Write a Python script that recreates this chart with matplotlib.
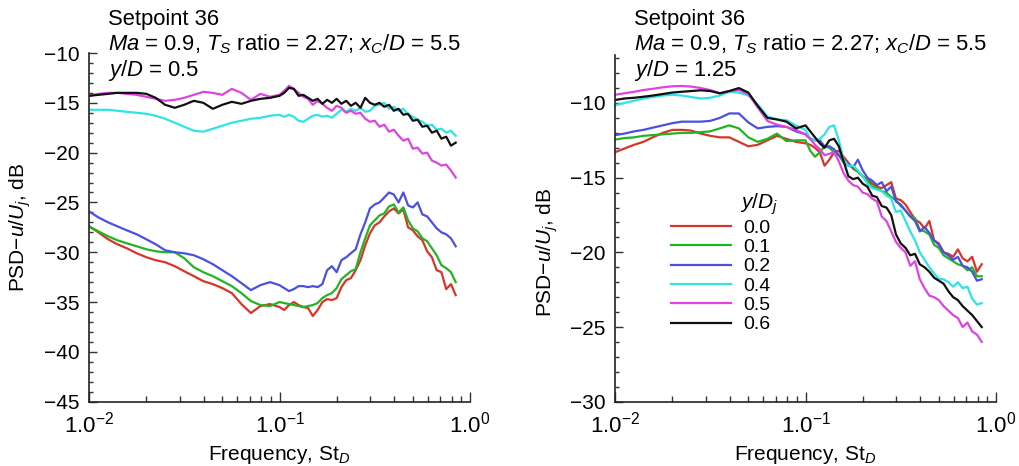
import matplotlib
matplotlib.use("Agg")
import matplotlib.pyplot as plt
from matplotlib.ticker import FuncFormatter, FixedLocator, MultipleLocator
import numpy as np

plt.rcParams['font.family'] = ['Liberation Sans', 'DejaVu Sans']
plt.rcParams['mathtext.fontset'] = 'custom'
plt.rcParams['mathtext.rm'] = 'Liberation Sans'
plt.rcParams['mathtext.it'] = 'Liberation Sans:italic'
plt.rcParams['mathtext.bf'] = 'Liberation Sans:bold'

# frequency (Strouhal number) grid shared by all curves
st = [0.0100, 0.0112, 0.0126, 0.0141, 0.0158, 0.0178, 0.0200, 0.0224, 0.0251, 0.0282,
      0.0316, 0.0355, 0.0398, 0.0447, 0.0501, 0.0562, 0.0631, 0.0708, 0.0794, 0.0891,
      0.1000, 0.1059, 0.1122, 0.1189, 0.1259, 0.1334, 0.1413, 0.1496, 0.1585, 0.1679,
      0.1778, 0.1884, 0.1995, 0.2113, 0.2239, 0.2371, 0.2512, 0.2661, 0.2818, 0.2985,
      0.3162, 0.3350, 0.3548, 0.3758, 0.3981, 0.4217, 0.4467, 0.4732, 0.5012, 0.5309,
      0.5623, 0.5957, 0.6310, 0.6683, 0.7079, 0.7499, 0.7943, 0.8414]

labels = ["0.0", "0.1", "0.2", "0.4", "0.5", "0.6"]
colors = ["#d8352a", "#22b422", "#4a50e0", "#2ee4e4", "#e044e0", "#111111"]

# y/D = 0.5 (left panel), PSD in dB
left_00 = [-27.4, -28.0, -28.7, -29.2, -29.6, -30.1, -30.5, -30.8, -31.0, -31.4,
           -31.9, -32.4, -32.9, -33.2, -33.6, -34.1, -35.2, -36.1, -35.4, -35.2,
           -35.5, -35.8, -35.3, -35.0, -35.3, -35.5, -35.6, -36.4, -35.8, -35.0,
           -34.7, -34.8, -34.6, -33.5, -32.8, -32.6, -31.8, -30.8, -29.3, -28.1,
           -27.3, -27.0, -26.4, -25.9, -25.6, -26.1, -25.7, -27.5, -27.8, -28.4,
           -28.8, -29.9, -30.5, -31.8, -32.0, -33.7, -33.2, -34.3]
left_01 = [-27.4, -27.9, -28.4, -28.8, -29.1, -29.4, -29.7, -29.9, -30.0, -30.0,
           -30.6, -31.5, -32.0, -32.4, -32.9, -33.4, -34.1, -34.9, -35.3, -35.4,
           -35.0, -35.1, -35.2, -35.3, -35.4, -35.5, -35.4, -35.3, -35.1, -34.6,
           -34.3, -34.1, -33.6, -32.7, -32.3, -31.9, -31.7, -30.0, -28.6, -27.3,
           -26.8, -26.3, -26.1, -25.4, -25.2, -26.0, -25.5, -26.8, -27.6, -27.9,
           -28.6, -28.9, -29.6, -30.3, -31.3, -31.6, -32.0, -33.0]
left_02 = [-25.9, -26.5, -27.0, -27.4, -27.8, -28.2, -28.7, -29.2, -29.8, -30.0,
           -30.1, -30.3, -30.7, -31.2, -31.8, -32.4, -33.1, -33.8, -33.3, -33.0,
           -33.3, -33.6, -33.9, -33.7, -33.4, -33.4, -33.5, -33.4, -33.5, -33.2,
           -31.8, -31.4, -32.0, -30.8, -30.5, -30.1, -29.7, -28.2, -27.0, -25.6,
           -25.2, -25.0, -24.5, -24.0, -24.2, -25.0, -24.0, -25.3, -25.5, -25.0,
           -26.2, -26.4, -27.0, -27.6, -28.0, -28.2, -28.6, -29.4]
left_04 = [-15.7, -15.7, -15.7, -15.8, -15.9, -16.0, -16.1, -16.3, -16.6, -17.0,
           -17.4, -17.8, -17.9, -17.6, -17.3, -17.0, -16.8, -16.6, -16.5, -16.3,
           -16.2, -16.4, -16.2, -16.4, -16.8, -16.9, -16.6, -16.3, -16.2, -16.4,
           -16.3, -16.5, -16.1, -15.7, -15.9, -15.6, -15.8, -15.5, -15.9, -15.8,
           -15.3, -15.2, -15.0, -15.6, -15.4, -15.8, -15.6, -16.2, -16.4, -16.7,
           -16.9, -17.3, -17.2, -17.7, -17.6, -18.0, -17.8, -18.3]
left_05 = [-14.3, -14.1, -14.0, -14.0, -14.1, -14.2, -14.4, -14.6, -14.8, -14.7,
           -14.5, -14.2, -13.9, -14.0, -14.2, -13.6, -14.0, -14.7, -14.1, -14.4,
           -14.2, -13.8, -13.3, -13.6, -14.0, -14.4, -14.6, -15.2, -14.8, -15.1,
           -15.5, -15.8, -15.3, -15.5, -16.0, -15.8, -16.1, -16.0, -16.6, -16.9,
           -16.8, -17.4, -17.2, -17.9, -17.7, -18.3, -18.8, -18.6, -19.6, -19.5,
           -20.1, -20.0, -20.8, -21.0, -21.3, -21.2, -21.8, -22.5]
left_06 = [-14.3, -14.2, -14.1, -14.0, -14.0, -14.0, -14.1, -14.5, -15.2, -15.5,
           -15.2, -14.8, -15.0, -15.6, -15.2, -14.9, -15.1, -14.8, -14.6, -14.5,
           -14.3, -14.0, -13.5, -13.6, -14.3, -14.2, -14.5, -14.8, -14.6, -15.1,
           -14.7, -15.0, -14.6, -15.1, -14.8, -15.3, -15.0, -15.5, -14.5, -15.0,
           -15.2, -15.0, -15.4, -15.2, -15.8, -15.6, -16.2, -16.1, -16.8, -16.7,
           -17.4, -17.3, -18.0, -17.8, -18.6, -18.4, -19.3, -19.0]

# y/D = 1.25 (right panel), PSD in dB
right_00 = [-13.3, -13.05, -12.8, -12.6, -12.3, -12.0, -11.8, -11.8, -11.85, -12.05,
            -12.2, -12.3, -12.3, -12.6, -12.9, -12.8, -12.5, -12.2, -12.4, -12.6,
            -12.7, -12.8, -13.0, -13.3, -14.2, -13.8, -13.3, -13.2, -13.6, -14.0,
            -14.4, -14.6, -14.9, -15.1, -15.4, -15.6, -15.7, -15.5, -15.3, -16.4,
            -16.5, -16.8, -17.3, -17.8, -18.0, -18.4, -17.9, -19.2, -19.4, -20.0,
            -20.1, -20.3, -19.8, -20.4, -20.6, -20.3, -21.3, -20.8]
right_01 = [-12.45, -12.35, -12.3, -12.2, -12.15, -12.1, -12.05, -12.0, -12.0, -11.95,
            -11.9, -11.7, -11.5, -11.7, -12.3, -12.6, -12.4, -12.05, -12.55, -12.5,
            -12.5, -13.2, -13.6, -13.3, -12.9, -13.0, -13.3, -13.5, -14.0, -14.2,
            -14.3, -14.6, -14.9, -15.2, -15.6, -15.7, -15.9, -16.0, -16.3, -16.5,
            -16.9, -17.2, -17.6, -17.7, -18.5, -18.6, -18.8, -19.5, -19.7, -20.2,
            -20.4, -20.6, -20.8, -20.9, -21.2, -21.0, -21.6, -21.6]
right_02 = [-12.15, -12.05, -11.9, -11.8, -11.65, -11.5, -11.35, -11.25, -11.25, -11.25,
            -11.2, -11.0, -10.7, -10.7, -11.3, -11.7, -11.6, -11.55, -11.6, -11.9,
            -12.1, -12.4, -12.5, -12.5, -12.9, -12.9, -13.1, -13.5, -13.8, -14.1,
            -14.3, -13.8, -14.5, -15.0, -15.2, -15.5, -15.3, -15.9, -15.6, -16.6,
            -16.8, -17.2, -17.6, -17.9, -18.6, -18.3, -18.7, -19.2, -19.5, -20.0,
            -20.2, -20.5, -20.3, -20.9, -21.0, -21.3, -21.9, -21.8]
right_04 = [-10.15, -10.0, -9.85, -9.7, -9.6, -9.5, -9.45, -9.5, -9.6, -9.7,
            -9.65, -9.5, -9.25, -9.3, -9.5, -10.1, -10.9, -11.1, -11.15, -11.5,
            -11.8, -12.4, -12.5, -12.4, -12.1, -11.6, -11.5, -12.5, -13.8, -14.2,
            -14.2, -14.5, -14.9, -15.4, -15.7, -15.8, -15.9, -16.2, -16.4, -17.3,
            -17.2, -17.9, -18.6, -19.2, -20.0, -20.5, -21.0, -21.4, -21.8, -21.8,
            -22.0, -22.3, -22.0, -22.4, -22.3, -23.1, -23.5, -23.4]
right_05 = [-9.45, -9.35, -9.25, -9.13, -9.05, -8.95, -8.88, -8.86, -8.9, -9.0,
            -9.13, -9.35, -9.2, -9.13, -9.4, -10.3, -11.2, -11.45, -11.6, -11.8,
            -12.1, -12.4, -12.8, -13.1, -13.5, -13.4, -13.3, -13.9, -14.7, -15.2,
            -15.5, -15.6, -16.0, -16.1, -16.4, -16.6, -17.6, -17.9, -18.6, -19.3,
            -19.7, -20.0, -20.9, -20.6, -21.8, -22.4, -22.9, -23.0, -23.2, -23.6,
            -23.9, -24.2, -24.4, -25.0, -24.7, -25.3, -25.5, -26.0]
right_06 = [-9.8, -9.7, -9.65, -9.58, -9.5, -9.4, -9.3, -9.25, -9.2, -9.15,
            -9.2, -9.35, -9.2, -9.0, -9.3, -10.2, -11.0, -11.1, -11.25, -11.7,
            -11.5, -11.9, -12.3, -12.7, -13.0, -12.5, -12.4, -12.9, -13.9, -14.9,
            -15.1, -15.0, -15.4, -15.6, -16.2, -16.3, -16.9, -17.0, -17.5, -18.8,
            -19.4, -19.7, -20.2, -20.1, -20.8, -21.0, -21.3, -21.7, -21.9, -22.1,
            -22.6, -23.0, -23.2, -23.6, -23.9, -24.2, -24.6, -25.0]

left_series = [left_00, left_01, left_02, left_04, left_05, left_06]
right_series = [right_00, right_01, right_02, right_04, right_05, right_06]

W, H = 1019, 466
fig = plt.figure(figsize=(W / 100, H / 100), dpi=100)


def px_axes(x0, x1, y_top, y_bot):
    return fig.add_axes([x0 / W, 1 - y_bot / H, (x1 - x0) / W, (y_bot - y_top) / H])


def decade_label(v, pos):
    e = int(round(np.log10(v)))
    return r"1.0$^{\mathregular{%d}}$" % e


def style(ax, ylim, ymajor):
    ax.set_xscale("log")
    ax.set_xlim(0.01, 1.0)
    ax.set_ylim(*ylim)
    ax.xaxis.set_major_locator(FixedLocator([0.01, 0.1, 1.0]))
    ax.xaxis.set_major_formatter(FuncFormatter(decade_label))
    ax.yaxis.set_major_locator(FixedLocator(ymajor))
    ax.yaxis.set_minor_locator(MultipleLocator(1))
    for s in ["top", "right"]:
        ax.spines[s].set_visible(False)
    for s in ["left", "bottom"]:
        ax.spines[s].set_linewidth(1.2)
        ax.spines[s].set_color("#222222")
    ax.tick_params(which="both", direction="in", color="#333333", width=1.0)
    ax.tick_params(axis="y", which="major", length=6, labelsize=15, pad=7)
    ax.tick_params(axis="y", which="minor", length=3)
    ax.tick_params(axis="x", which="major", length=7.5, labelsize=16, pad=7)
    ax.tick_params(axis="x", which="minor", length=4)
    ax.set_xlabel(r"Frequency, St$_{D}$", fontsize=15)
    ax.set_ylabel(r"PSD$-$$u/U_j$, dB", fontsize=15)
    ax.xaxis.set_label_coords(0.5, -0.122)
    ax.xaxis.label.set_va("top")


# left panel
ax1 = px_axes(89, 470, 53, 401.7)
style(ax1, (-45, -10), [-45, -40, -35, -30, -25, -20, -15, -10])
for ys, c in zip(left_series, colors):
    ax1.plot(st, ys, color=c, lw=1.6)
ax1.yaxis.set_label_coords(-0.147, 0.5)

# right panel
ax2 = px_axes(615, 996, 55.2, 401.7)
style(ax2, (-30, -6.8), [-30, -25, -20, -15, -10])
lines = []
for ys, c, lab in zip(right_series, colors, labels):
    ln, = ax2.plot(st, ys, color=c, lw=1.6, label=lab)
    lines.append(ln)
ax2.yaxis.set_label_coords(-0.145, 0.432)

leg = ax2.legend(handles=lines, loc="upper left",
                 bbox_to_anchor=(671 / W, 1 - 219 / H), bbox_transform=fig.transFigure,
                 frameon=False, fontsize=14, handlelength=3.1, handletextpad=0.6,
                 labelspacing=0.09, borderpad=0, borderaxespad=0)
fig.text(740 / W, 1 - 209 / H, r"$y/D_j$", fontsize=15, va="baseline")

# header text blocks
for x0, yd in [(108, "0.5"), (634, "1.25")]:
    fig.text(x0 / W, 1 - 25 / H, "Setpoint 36", fontsize=15.8, va="baseline")
    fig.text(x0 / W, 1 - 50 / H, r"$Ma$ = 0.9, $T_S$ ratio = 2.27; $x_C/D$ = 5.5",
             fontsize=15.8, va="baseline")
    fig.text(x0 / W, 1 - 76 / H, r"$y/D$ = " + yd, fontsize=15.8, va="baseline")

fig.savefig("out.png", dpi=100)
